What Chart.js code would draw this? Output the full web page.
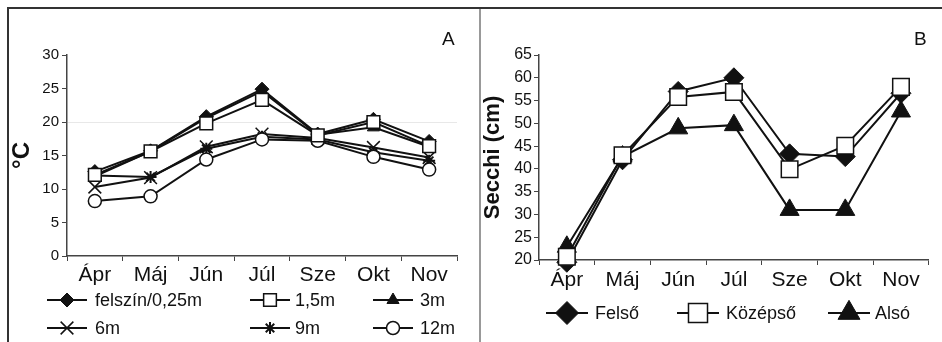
<!DOCTYPE html>
<html>
<head>
<meta charset="utf-8">
<script src="https://cdn.jsdelivr.net/npm/chart.js@4.4.1/dist/chart.umd.min.js"></script>
<style>
    body { margin: 0; background: #fff; width: 942px; height: 342px; overflow: hidden; position: relative; font-family: 'Liberation Sans', Arial, sans-serif; }
    canvas { position: absolute; top: 0; }
    #tempChart { left: 0; }
    #secchiChart { left: 482px; }
    .frame-top { position: absolute; left: 7px; top: 7px; width: 935px; border-top: 2px solid #333; }
    .frame-left { position: absolute; left: 7px; top: 7px; height: 335px; border-left: 2px solid #333; }
    .divider { position: absolute; left: 479px; top: 9px; height: 333px; border-left: 2px solid #999; }
    .tag { position: absolute; font-size: 19px; color: #111; line-height: 1; }
</style>
</head>
<body>
<canvas id="tempChart" width="480" height="342"></canvas>
<canvas id="secchiChart" width="460" height="342"></canvas>
<div class="frame-top"></div>
<div class="frame-left"></div>
<div class="divider"></div>
<div class="tag" style="left:442px;top:29px">A</div>
<div class="tag" style="left:914px;top:29px">B</div>
<script>
// hónapok
const months = ['Ápr', 'Máj', 'Jún', 'Júl', 'Sze', 'Okt', 'Nov'];

// A: hőmérséklet (°C) mélységenként
const tempSeriesNames = ['felszín/0,25m', '1,5m', '3m', '6m', '9m', '12m'];
const temp025 = [12.6, 15.7, 20.8, 24.9, 18.2, 20.4, 17.1];
const temp15 = [12.1, 15.6, 19.8, 23.3, 18.0, 20.0, 16.4];
const temp3 = [11.9, 15.6, 20.6, 24.6, 18.1, 19.2, 16.3];
const temp6 = [10.3, 11.7, 16.3, 18.2, 17.6, 16.2, 14.7];
const temp9 = [12.0, 11.8, 16.0, 17.8, 17.4, 15.5, 14.2];
const temp12 = [8.2, 8.9, 14.4, 17.4, 17.2, 14.8, 12.9];
const tempTicks = [0, 5, 10, 15, 20, 25, 30];

// B: Secchi átlátszóság (cm)
const secchiSeriesNames = ['Felső', 'Középső', 'Alsó'];
const secchiFelso = [19.5, 42, 57, 60, 43.3, 42.7, 56.6];
const secchiKozepso = [20.7, 43, 55.8, 56.9, 39.9, 45.1, 58];
const secchiAlso = [22.9, 42.7, 48.9, 49.6, 31, 31, 52.6];
const secchiTicks = [20, 25, 30, 35, 40, 45, 50, 55, 60, 65];

const ink = '#111';
const axisGray = '#444';

function series(label, data, style, radius, fill, bw, order) {
    return {
        label: label,
        data: data,
        order: order || 0,
        borderColor: ink,
        borderWidth: 2,
        pointStyle: style,
        pointRadius: radius,
        pointHoverRadius: radius,
        pointBackgroundColor: fill,
        pointBorderColor: ink,
        pointBorderWidth: bw,
        tension: 0,
        clip: false
    };
}

// saját jelmagyarázat: vonal + jelölő + szöveg
const markerLegend = {
    id: 'markerLegend',
    afterDraw(chart, args, opts) {
        const ctx = chart.ctx;
        chart.data.datasets.forEach((ds, i) => {
            const spot = opts.spots[i];
            ctx.save();
            ctx.strokeStyle = ds.borderColor;
            ctx.lineWidth = ds.borderWidth;
            ctx.beginPath();
            ctx.moveTo(spot.x - opts.half, spot.y);
            ctx.lineTo(spot.x + opts.half, spot.y);
            ctx.stroke();
            ctx.fillStyle = ds.pointBackgroundColor;
            ctx.strokeStyle = ds.pointBorderColor;
            ctx.lineWidth = ds.pointBorderWidth;
            Chart.helpers.drawPoint(ctx, {
                pointStyle: ds.pointStyle,
                radius: ds.pointRadius * opts.scale,
                rotation: 0,
                borderWidth: ds.pointBorderWidth
            }, spot.x, spot.y);
            ctx.fillStyle = ink;
            ctx.font = opts.font;
            ctx.textBaseline = 'middle';
            ctx.fillText(ds.label, spot.tx, spot.y + 1);
            ctx.restore();
        });
    }
};

function fixedTicks(list) {
    return scale => { scale.ticks = list.map(v => ({ value: v })); };
}

new Chart(document.getElementById('tempChart'), {
    type: 'line',
    data: {
        labels: months,
        datasets: [
            series(tempSeriesNames[0], temp025, 'rectRot', 7, ink, 1),
            series(tempSeriesNames[1], temp15, 'rect', 9, '#fff', 1.5, -2),
            series(tempSeriesNames[2], temp3, 'triangle', 7, ink, 1),
            series(tempSeriesNames[3], temp6, 'crossRot', 9, ink, 1.5),
            series(tempSeriesNames[4], temp9, 'star', 6, ink, 2),
            series(tempSeriesNames[5], temp12, 'circle', 6.5, '#fff', 1.5, -1)
        ]
    },
    options: {
        responsive: false,
        animation: false,
        layout: { padding: { left: 0, right: 23, top: 55, bottom: 56 } },
        plugins: {
            legend: { display: false },
            tooltip: { enabled: false },
            markerLegend: {
                half: 20,
                scale: 1,
                font: '18px "Liberation Sans", Arial, sans-serif',
                spots: [
                    { x: 67, y: 300, tx: 95 },
                    { x: 270, y: 300, tx: 295 },
                    { x: 393, y: 300, tx: 420 },
                    { x: 67, y: 328, tx: 95 },
                    { x: 270, y: 328, tx: 295 },
                    { x: 393, y: 328, tx: 420 }
                ]
            }
        },
        scales: {
            x: {
                offset: true,
                afterFit: scale => { scale.height = 30; },
                grid: { offset: true, drawOnChartArea: false, tickLength: 5, tickColor: axisGray, tickWidth: 1 },
                border: { color: axisGray, width: 1.5 },
                ticks: { color: ink, padding: 2, font: { family: 'Liberation Sans', size: 21 } }
            },
            y: {
                min: tempTicks[0],
                max: tempTicks[tempTicks.length - 1],
                afterBuildTicks: fixedTicks(tempTicks),
                afterFit: scale => { scale.width = 67; },
                grid: {
                    color: c => (c.tick && c.tick.value === 20 ? '#e8e8e8' : 'transparent'),
                    tickColor: axisGray,
                    tickLength: 5,
                    lineWidth: 1
                },
                border: { color: axisGray, width: 1.5 },
                ticks: { color: ink, padding: 3, font: { family: 'Liberation Sans', size: 15 } },
                title: {
                    display: true,
                    text: '°C',
                    color: ink,
                    padding: { top: 10, bottom: 0 },
                    font: { family: 'Liberation Sans', size: 24, weight: 'bold', lineHeight: 1 }
                }
            }
        }
    },
    plugins: [markerLegend]
});

new Chart(document.getElementById('secchiChart'), {
    type: 'line',
    data: {
        labels: months,
        datasets: [
            series(secchiSeriesNames[0], secchiFelso, 'rectRot', 10, ink, 1),
            series(secchiSeriesNames[1], secchiKozepso, 'rect', 11.7, '#fff', 1.5, -1),
            series(secchiSeriesNames[2], secchiAlso, 'triangle', 11, ink, 1)
        ]
    },
    options: {
        responsive: false,
        animation: false,
        layout: { padding: { left: 0, right: 13, top: 55, bottom: 52 } },
        plugins: {
            legend: { display: false },
            tooltip: { enabled: false },
            markerLegend: {
                half: 21,
                scale: 1.15,
                font: '18px "Liberation Sans", Arial, sans-serif',
                spots: [
                    { x: 85, y: 313, tx: 113 },
                    { x: 216, y: 313, tx: 244 },
                    { x: 367, y: 313, tx: 393 }
                ]
            }
        },
        scales: {
            x: {
                offset: true,
                afterFit: scale => { scale.height = 30; },
                grid: { offset: true, drawOnChartArea: false, tickLength: 5, tickColor: axisGray, tickWidth: 1 },
                border: { color: axisGray, width: 1.5 },
                ticks: { color: ink, padding: 3, font: { family: 'Liberation Sans', size: 21 } }
            },
            y: {
                min: secchiTicks[0],
                max: secchiTicks[secchiTicks.length - 1],
                afterBuildTicks: fixedTicks(secchiTicks),
                afterFit: scale => { scale.width = 57; },
                grid: { drawOnChartArea: false, tickColor: axisGray, tickLength: 5 },
                border: { color: axisGray, width: 1.5 },
                ticks: { color: ink, padding: 2, font: { family: 'Liberation Sans', size: 16 } },
                title: {
                    display: true,
                    text: 'Secchi (cm)',
                    color: ink,
                    padding: { top: 0, bottom: 0 },
                    font: { family: 'Liberation Sans', size: 22, weight: 'bold', lineHeight: 1 }
                }
            }
        }
    },
    plugins: [markerLegend]
});
</script>
</body>
</html>
